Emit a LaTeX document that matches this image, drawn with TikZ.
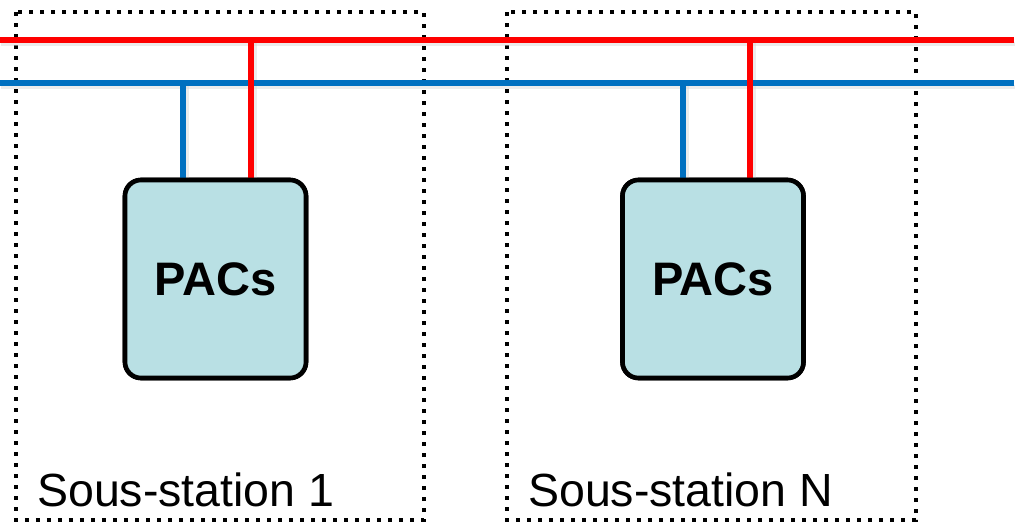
\documentclass[tikz,border=0pt]{standalone}
\usepackage{fontspec}
\setmainfont{Liberation Sans}
\definecolor{busred}{RGB}{255,0,0}
\definecolor{busblue}{RGB}{0,112,192}
\definecolor{pacfill}{RGB}{185,224,228}
\begin{document}
\begin{tikzpicture}[x=1pt,y=-1pt,
  zone/.style={draw=black,line width=4.6pt,dash pattern=on 4.4pt off 6.6pt},
  pac/.style={draw=black,line width=4.6pt,fill=pacfill,rounded corners=16pt,minimum width=181pt,minimum height=198pt,inner sep=0pt,font=\bfseries\fontsize{47}{50}\selectfont},
  lbl/.style={anchor=base west,inner sep=0pt,font=\fontsize{46.5}{50}\selectfont},
  redw/.style={draw=busred,line width=5.5pt},
  bluew/.style={draw=busblue,line width=5.5pt},
  shad/.style={draw=black!15,line width=4pt,opacity=0.5}]
\useasboundingbox (0,0) rectangle (1023,525);
% zones
\draw[zone] (16,12) rectangle (424,520);
\draw[zone] (507,12) rectangle (916,520);
% bus coordinates
\coordinate (rL) at (0,40);
\coordinate (rR) at (1014,40);
\coordinate (bL) at (0,83);
\coordinate (bR) at (1014,83);
\coordinate (r1) at (251,40);
\coordinate (b1) at (183,83);
\coordinate (r2) at (750,40);
\coordinate (b2) at (683,83);
% PAC nodes
\node[pac] (p1) at (215.5,279) {PACs};
\node[pac] (p2) at (713,279) {PACs};
% shadows
\draw[shad] ([shift={(1,3.5)}]rL) -- ([shift={(1,3.5)}]rR);
\draw[shad] ([shift={(1,3.5)}]bL) -- ([shift={(1,3.5)}]bR);
\draw[shad] ([shift={(3.5,2)}]r1) -- ([shift={(3.5,0)}]r1 |- p1.north);
\draw[shad] ([shift={(3.5,2)}]b1) -- ([shift={(3.5,0)}]b1 |- p1.north);
\draw[shad] ([shift={(3.5,2)}]r2) -- ([shift={(3.5,0)}]r2 |- p2.north);
\draw[shad] ([shift={(3.5,2)}]b2) -- ([shift={(3.5,0)}]b2 |- p2.north);
% buses
\draw[redw] (rL) -- (rR);
\draw[bluew] (bL) -- (bR);
% taps
\draw[redw] (r1) -- (r1 |- p1.north);
\draw[bluew] (b1) -- (b1 |- p1.north);
\draw[redw] (r2) -- (r2 |- p2.north);
\draw[bluew] (b2) -- (b2 |- p2.north);
\node[pac] at (p1) {PACs};
\node[pac] at (p2) {PACs};
% labels
\node[lbl] (l1) at (37,506) {Sous-station 1};
\node[lbl] (l2) at (528,506) {Sous-station N};
\end{tikzpicture}
\end{document}
